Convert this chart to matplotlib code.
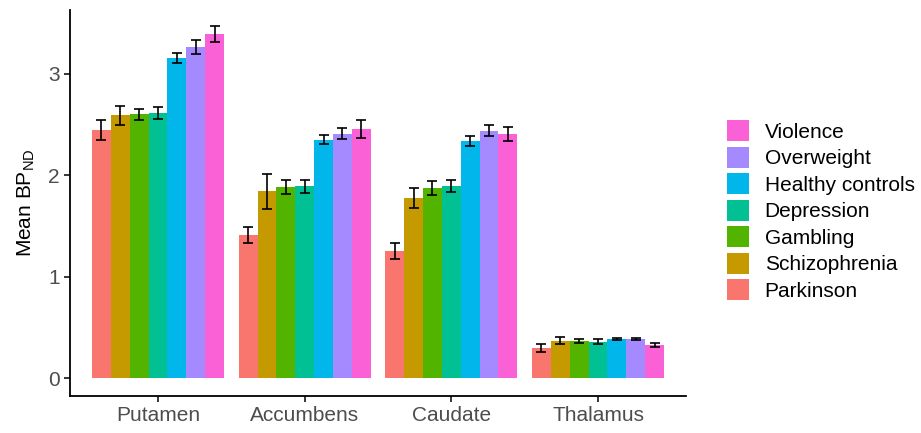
import matplotlib
matplotlib.use("Agg")
import matplotlib.pyplot as plt
import numpy as np

regions = ["Putamen", "Accumbens", "Caudate", "Thalamus"]
groups = ["Parkinson", "Schizophrenia", "Gambling", "Depression",
          "Healthy controls", "Overweight", "Violence"]
colors = ["#F8766D", "#C49A00", "#53B400", "#00C094", "#00B6EB", "#A58AFF", "#FB61D7"]

# mean BP_ND per group, one value per region (Putamen, Accumbens, Caudate, Thalamus)
parkinson     = [2.45, 1.41, 1.25, 0.295]
schizophrenia = [2.59, 1.84, 1.78, 0.37]
gambling      = [2.60, 1.885, 1.875, 0.364]
depression    = [2.615, 1.89, 1.895, 0.357]
healthy       = [3.16, 2.35, 2.34, 0.383]
overweight    = [3.265, 2.41, 2.44, 0.383]
violence      = [3.39, 2.46, 2.41, 0.325]

parkinson_err     = [0.10, 0.075, 0.08, 0.04]
schizophrenia_err = [0.097, 0.177, 0.098, 0.036]
gambling_err      = [0.057, 0.07, 0.069, 0.018]
depression_err    = [0.06, 0.06, 0.059, 0.025]
healthy_err       = [0.05, 0.043, 0.049, 0.008]
overweight_err    = [0.072, 0.055, 0.057, 0.008]
violence_err      = [0.08, 0.09, 0.07, 0.018]

means = [parkinson, schizophrenia, gambling, depression, healthy, overweight, violence]
errs = [parkinson_err, schizophrenia_err, gambling_err, depression_err,
        healthy_err, overweight_err, violence_err]

plt.rcParams['font.family'] = ['Liberation Sans', 'DejaVu Sans']

fig = plt.figure(figsize=(9.21, 4.33), dpi=100)
ax = fig.add_axes([70/921, (433-396)/433, (686-70)/921, (396-10)/433])

x = np.arange(len(regions))
n = len(groups)
total = 0.9
w = total / n
handles = []
for i, (g, m, e, c) in enumerate(zip(groups, means, errs, colors)):
    pos = x - total/2 + w/2 + i*w
    b = ax.bar(pos, m, width=w, color=c, label=g, linewidth=0)
    handles.append(b)
    ax.errorbar(pos, m, yerr=e, fmt='none', ecolor='black', elinewidth=1.2,
                capsize=3.4, capthick=1.2)

ax.set_xlim(-0.6, 3.6)
ax.set_ylim(-0.177, 3.63)
ax.set_xticks(x)
ax.set_xticklabels(regions)
ax.set_yticks([0, 1, 2, 3])
ax.tick_params(axis='both', labelsize=15, labelcolor='#4D4D4D', length=4,
               width=1.1, color='black')
for s in ['top', 'right']:
    ax.spines[s].set_visible(False)
for s in ['left', 'bottom']:
    ax.spines[s].set_linewidth(1.3)
ax.set_ylabel(r'Mean BP$_{\mathregular{ND}}$', fontsize=15, labelpad=8)

leg = fig.legend(handles[::-1], groups[::-1], loc='upper left',
                 bbox_to_anchor=(727/921, 1 - 120/433), frameon=False,
                 fontsize=15, handlelength=1.06, handleheight=1.2,
                 labelspacing=0.23, handletextpad=0.75, borderaxespad=0,
                 borderpad=0)

fig.savefig("out.png", dpi=100)
